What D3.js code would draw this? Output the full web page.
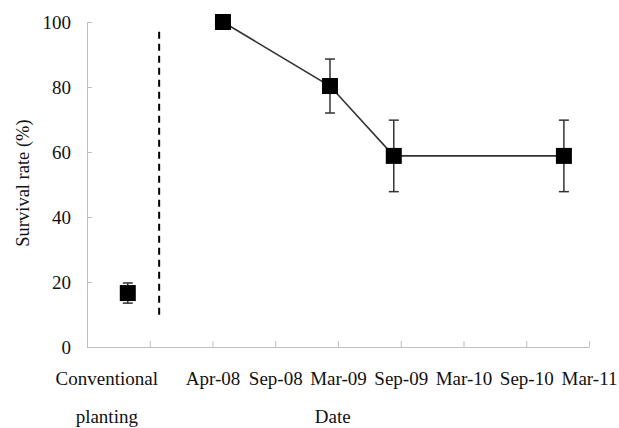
<!DOCTYPE html>
<meta charset="utf-8">
<style>
  body { margin: 0; background: #fff; }
</style>
<svg width="619" height="428"></svg>
<script src="https://cdnjs.cloudflare.com/ajax/libs/d3/7.8.5/d3.min.js"></script>
<script>

// values
var axisStart = "2007-04-07";      // first tick of the date axis
var tickStepDays = 180;
var tickLabels = ["", "", "Apr-08", "Sep-08", "Mar-09", "Sep-09", "Mar-10", "Sep-10", "Mar-11"];
var yTicks = [0, 20, 40, 60, 80, 100];

var sampleDates = ["2008-05-01", "2009-03-04", "2009-09-03", "2011-01-04"];
var survival = [100, 80.3, 58.8, 58.8];
var survivalErr = [0, 8.3, 11, 11];

var convDate = "2007-08-02";
var convValue = 16.6;
var convErr = 3.1;
var dividerDate = "2007-10-31";
var dividerRange = [9, 97];

var parse = d3.timeParse("%Y-%m-%d");

var svg = d3.select("svg")
    .attr("font-family", "Liberation Serif")
    .style("font-family", '"Liberation Serif"');

var margin = {top: 22, right: 30, bottom: 81, left: 87},
    width = +svg.attr("width") - margin.left - margin.right,
    height = +svg.attr("height") - margin.top - margin.bottom;

var start = parse(axisStart);
var tickDates = tickLabels.map(function(d, i) { return d3.timeDay.offset(start, i * tickStepDays); });

var x = d3.scaleTime()
    .domain([tickDates[0], tickDates[tickDates.length - 1]])
    .range([0, width]);

var y = d3.scaleLinear()
    .domain([0, 100])
    .range([height, 0]);

var g = svg.append("g")
    .attr("transform", "translate(" + margin.left + "," + margin.top + ")");

function label(sel, size) {
  return sel
      .attr("font-family", "Liberation Serif")
      .style("font-family", '"Liberation Serif"')
      .style("font-size", size + "px")
      .attr("fill", "#111");
}

// axes
var xAxis = g.append("g")
    .attr("transform", "translate(0," + height + ")")
    .call(d3.axisBottom(x)
      .tickValues(tickDates)
      .tickSize(-6)
      .tickSizeOuter(0)
      .tickPadding(25)
      .tickFormat(function(d, i) { return tickLabels[i]; }));

var yAxis = g.append("g")
    .call(d3.axisLeft(y)
      .tickValues(yTicks)
      .tickSize(-5)
      .tickSizeOuter(0)
      .tickPadding(16));

[xAxis, yAxis].forEach(function(a) {
  a.attr("font-family", "Liberation Serif");
  a.selectAll("path, line").attr("stroke", "#bfbfbf").attr("stroke-width", 1);
  label(a.selectAll("text"), 19);
});

// category label for the conventional planting point
label(g.append("text"), 19)
    .attr("x", x(parse(convDate)) - 21)
    .attr("y", height + 38)
    .attr("text-anchor", "middle")
    .text("Conventional");
label(g.append("text"), 19)
    .attr("x", x(parse(convDate)) - 21)
    .attr("y", height + 76)
    .attr("text-anchor", "middle")
    .text("planting");

// axis titles
label(g.append("text"), 19)
    .attr("x", x(parse("2009-09-03")) - 61)
    .attr("y", height + 76)
    .attr("text-anchor", "middle")
    .text("Date");

label(svg.append("text"), 18.5)
    .attr("transform", "translate(29,183) rotate(-90)")
    .attr("text-anchor", "middle")
    .text("Survival rate (%)");

// dashed divider
g.append("line")
    .attr("x1", x(parse(dividerDate)))
    .attr("x2", x(parse(dividerDate)))
    .attr("y1", y(dividerRange[1]))
    .attr("y2", y(dividerRange[0]))
    .attr("stroke", "#000")
    .attr("stroke-width", 2)
    .attr("stroke-dasharray", "7,5");

// series
var points = sampleDates.map(function(d, i) {
  return {date: parse(d), value: survival[i], err: survivalErr[i]};
});
var allPoints = points.concat([{date: parse(convDate), value: convValue, err: convErr}]);

g.append("path")
    .datum(points)
    .attr("fill", "none")
    .attr("stroke", "#333")
    .attr("stroke-width", 1.6)
    .attr("d", d3.line()
      .x(function(d) { return x(d.date); })
      .y(function(d) { return y(d.value); }));

var bars = g.selectAll(".err")
    .data(allPoints.filter(function(d) { return d.err > 0; }))
  .enter().append("g")
    .attr("class", "err")
    .attr("stroke", "#333")
    .attr("stroke-width", 1.5);

bars.append("line")
    .attr("x1", function(d) { return x(d.date); })
    .attr("x2", function(d) { return x(d.date); })
    .attr("y1", function(d) { return y(d.value + d.err); })
    .attr("y2", function(d) { return y(d.value - d.err); });

[1, -1].forEach(function(s) {
  bars.append("line")
      .attr("x1", function(d) { return x(d.date) - 5; })
      .attr("x2", function(d) { return x(d.date) + 5; })
      .attr("y1", function(d) { return y(d.value + s * d.err); })
      .attr("y2", function(d) { return y(d.value + s * d.err); });
});

g.selectAll(".mark")
    .data(allPoints)
  .enter().append("rect")
    .attr("class", "mark")
    .attr("x", function(d) { return x(d.date) - 8; })
    .attr("y", function(d) { return y(d.value) - 8; })
    .attr("width", 16)
    .attr("height", 16)
    .attr("fill", "#000");

</script>
